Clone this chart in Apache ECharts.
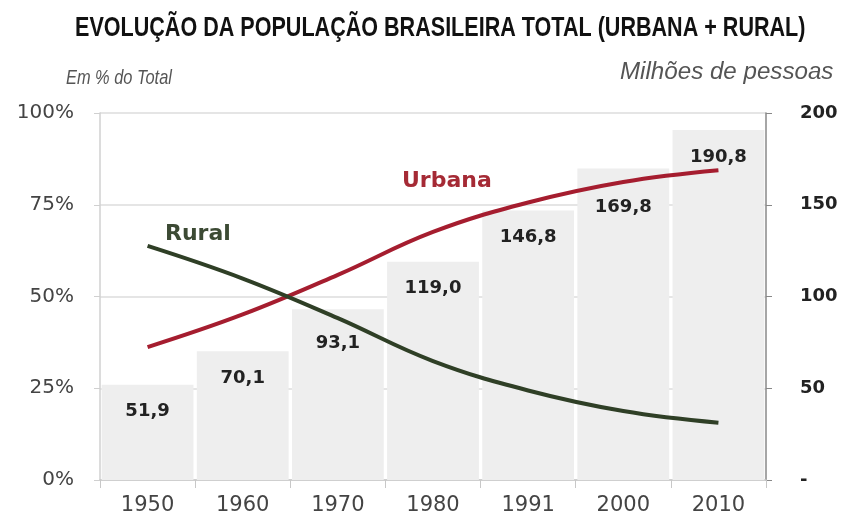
<!DOCTYPE html>
<html>
<head>
<meta charset="utf-8">
<script src="https://cdn.jsdelivr.net/npm/echarts@6/dist/echarts.min.js"></script>
<style>
  html, body { margin: 0; padding: 0; background: #fff; }
  #chart { width: 844px; height: 526px; }
</style>
</head>
<body>
<div id="chart"></div>
<script>
let chart = echarts.init(document.getElementById('chart'));

// dados
let anos = ['1950', '1960', '1970', '1980', '1991', '2000', '2010'];
let total = [51.9, 70.1, 93.1, 119.0, 146.8, 169.8, 190.8];   // milhões de pessoas
let urbana = [36.2, 45.1, 55.9, 67.6, 75.6, 81.2, 84.4];       // % do total
let rural = [63.8, 54.9, 44.1, 32.4, 24.4, 18.8, 15.6];        // % do total

// deslocamento extra do rótulo das barras (onde a linha passa por cima)
let label_dist = {2: 25, 5: 30};

let font = 'DejaVu Sans';
let font_lib = '"Liberation Sans", Arial, sans-serif';

let bar_data = total.map((v, i) => {
    let item = {value: v};
    if (label_dist[i] !== undefined) {
        item.label = {distance: label_dist[i]};
    }
    return item;
});

let option = {
    animation: false,
    backgroundColor: '#fff',
    textStyle: {fontFamily: font},
    grid: {
        left: 100,
        right: 78,
        top: 113,
        bottom: 46
    },
    xAxis: {
        type: 'category',
        data: anos,
        boundaryGap: true,
        axisLine: {lineStyle: {color: '#c8c8c8', width: 1.5}},
        axisTick: {show: true, length: 8, lineStyle: {color: '#c8c8c8'}},
        axisLabel: {fontSize: 21, color: '#444', margin: 15, fontFamily: font}
    },
    yAxis: [
        {
            type: 'value',
            min: 0,
            max: 100,
            interval: 25,
            position: 'left',
            axisLine: {show: true, lineStyle: {color: '#d0d0d0', width: 1.5}},
            axisTick: {show: true, length: 6, lineStyle: {color: '#d0d0d0'}},
            splitLine: {lineStyle: {color: '#dcdcdc', width: 1.5}},
            axisLabel: {
                formatter: '{value}%',
                fontSize: 20,
                color: '#444',
                margin: 26,
                fontFamily: font
            }
        },
        {
            type: 'value',
            min: 0,
            max: 200,
            interval: 50,
            position: 'right',
            axisLine: {show: true, lineStyle: {color: '#888', width: 1.5}},
            axisTick: {show: true, length: 6, lineStyle: {color: '#888'}},
            splitLine: {show: false},
            axisLabel: {
                formatter: v => v === 0 ? '-' : String(v),
                fontSize: 18,
                fontWeight: 'bold',
                color: '#222',
                margin: 34,
                align: 'left',
                fontFamily: font
            }
        }
    ],
    series: [
        {
            name: 'Total',
            type: 'bar',
            yAxisIndex: 1,
            data: bar_data,
            barCategoryGap: '3.5%',
            itemStyle: {color: '#eeeeee'},
            label: {
                show: true,
                position: 'insideTop',
                distance: 18,
                formatter: p => p.value.toFixed(1).replace('.', ','),
                fontSize: 18,
                fontWeight: 'bold',
                color: '#222',
                fontFamily: font
            },
            z: 1
        },
        {
            name: 'Urbana',
            type: 'line',
            yAxisIndex: 0,
            data: urbana,
            smooth: 0.4,
            symbol: 'none',
            lineStyle: {color: '#a51d2f', width: 4},
            z: 3
        },
        {
            name: 'Rural',
            type: 'line',
            yAxisIndex: 0,
            data: rural,
            smooth: 0.4,
            symbol: 'none',
            lineStyle: {color: '#2f3f26', width: 4},
            z: 4
        }
    ],
    graphic: [
        {
            // título condensado
            type: 'text', x: 75, y: 14, scaleX: 0.77,
            style: {
                text: 'EVOLUÇÃO DA POPULAÇÃO BRASILEIRA TOTAL (URBANA + RURAL)',
                fontSize: 28, fontWeight: 'bold', fill: '#111', fontFamily: font_lib
            }
        },
        {
            type: 'text', x: 66, y: 68, scaleX: 0.78,
            style: {text: 'Em % do Total', fontSize: 21, fontStyle: 'italic', fill: '#555', fontFamily: font_lib}
        },
        {
            type: 'text', x: 620, y: 61, scaleX: 1.05,
            style: {text: 'Milhões de pessoas', fontSize: 23, fontStyle: 'italic', fill: '#555', fontFamily: font_lib}
        },
        {
            type: 'text', left: 165, top: 223,
            style: {text: 'Rural', fontSize: 22, fontWeight: 'bold', fill: '#3c4a34', fontFamily: font}
        },
        {
            type: 'text', left: 402, top: 170,
            style: {text: 'Urbana', fontSize: 22, fontWeight: 'bold', fill: '#a52a35', fontFamily: font}
        },
        {
            type: 'text', left: 685, top: 264,
            style: {text: 'Total', fontSize: 22, fontWeight: 'bold', fill: '#555', fontFamily: font}
        }
    ]
};

chart.setOption(option);
</script>
</body>
</html>
